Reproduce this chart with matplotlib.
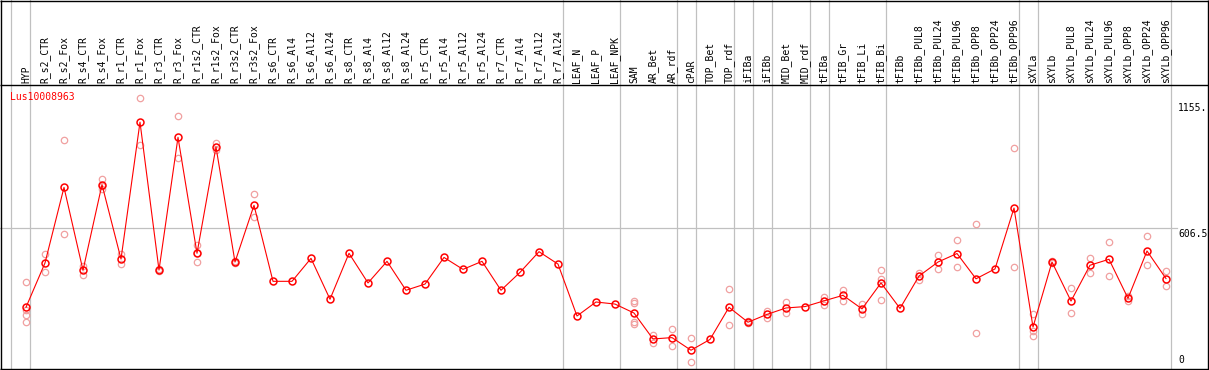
import matplotlib
matplotlib.use("Agg")
import matplotlib.pyplot as plt
import numpy as np

title = "Lus10008963"

categories = [
    "HYP", "R_s2_CTR", "R_s2_Fox", "R_s4_CTR", "R_s4_Fox", "R_r1_CTR", "R_r1_Fox",
    "R_r3_CTR", "R_r3_Fox", "R_r1s2_CTR", "R_r1s2_Fox", "R_r3s2_CTR", "R_r3s2_Fox",
    "R_s6_CTR", "R_s6_Al4", "R_s6_Al12", "R_s6_Al24", "R_s8_CTR", "R_s8_Al4",
    "R_s8_Al12", "R_s8_Al24", "R_r5_CTR", "R_r5_Al4", "R_r5_Al12", "R_r5_Al24",
    "R_r7_CTR", "R_r7_Al4", "R_r7_Al12", "R_r7_Al24", "LEAF_N", "LEAF_P", "LEAF_NPK",
    "SAM", "AR_Bet", "AR_rdf", "cPAR", "TOP_Bet", "TOP_rdf", "iFIBa", "iFIBb",
    "MID_Bet", "MID_rdf", "tFIBa", "tFIB_Gr", "tFIB_Li", "tFIB_Bi", "tFIBb",
    "tFIBb_PUL8", "tFIBb_PUL24", "tFIBb_PUL96", "tFIBb_OPP8", "tFIBb_OPP24",
    "tFIBb_OPP96", "sXYLa", "sXYLb", "sXYLb_PUL8", "sXYLb_PUL24", "sXYLb_PUL96",
    "sXYLb_OPP8", "sXYLb_OPP24", "sXYLb_OPP96",
]

means = [
    260, 453, 782, 421, 794, 470, 1066, 422, 1000, 495, 958, 457, 704,
    373, 373, 473, 295, 495, 366, 460, 334, 361, 477, 425, 460,
    334, 412, 502, 448, 222, 283, 274,
    235, 122, 128, 73, 120, 260, 195, 229, 257, 263, 288, 312, 253, 366, 255,
    396, 457, 494, 384, 427, 692, 174, 457, 287, 443, 469, 299, 505, 385,
]

replicates = [
    [369, 248, 226, 195], [493, 415], [987, 578], [441, 400], [820, 773, 789],
    [490, 450], [1170, 965], [425, 419], [1091, 908], [531, 456, 498],
    [974, 945], [460, 454], [752, 654],
    [], [], [], [], [], [], [], [], [], [], [], [], [], [], [], [],
    [], [], [],
    [289, 280, 195, 186], [139, 103], [165, 90], [125, 20], [], [338, 181],
    [199, 191], [242, 213], [283, 234], [], [303, 271], [335, 286], [276, 232],
    [421, 383, 290], [],
    [411, 379], [486, 425], [551, 435], [621, 148], [], [952, 434],
    [231, 158, 136], [461, 453], [343, 234], [473, 411], [543, 395],
    [309, 289], [570, 443], [418, 351],
]

# indices of last category in each group (separator lines drawn after them)
group_ends = [-1, 0, 28, 31, 34, 35, 37, 38, 39, 41, 42, 45, 52, 53, 60]

axis_values = [1155, 606.5, 0]
axis_labels = ["1155.", "606.5", "0"]

W, H = 1209, 370
fig = plt.figure(figsize=(W / 100, H / 100), dpi=100)
ax = fig.add_axes([0, 0, 1, 1])
ax.set_axis_off()

# pixel geometry
x0_px, dx_px = 26.0, 19.0
y0_px, py_per_unit = 367.0, 0.2297

def px_to_x(px):
    return (px - x0_px) / dx_px

def px_to_y(py):
    return (y0_px - py) / py_per_unit

ax.set_xlim(px_to_x(0), px_to_x(W))
ax.set_ylim(px_to_y(H), px_to_y(0))

grey = "#c0c0c0"
font = "DejaVu Sans Mono"
fs = 7

# group separators
for g in group_ends:
    ax.axvline(g + 4.5 / dx_px, color=grey, lw=0.9, zorder=1)

# grid line at mid value
ax.plot([px_to_x(0), px_to_x(1177)], [606.5, 606.5], color=grey, lw=0.9, zorder=1)

# frame lines
for (xa, ya, xb, yb) in [(0.5, 0.5, W, 0.5), (0.5, 85, W, 85), (0.5, 369, W, 369),
                         (0.6, 0, 0.6, H), (1207.8, 0, 1207.8, H)]:
    ax.plot([px_to_x(xa), px_to_x(xb)], [px_to_y(ya), px_to_y(yb)],
            color="black", lw=1.0, zorder=2, solid_capstyle="butt")

x = np.arange(len(categories))

# replicates
rx, ry = [], []
for i, reps in enumerate(replicates):
    for v in reps:
        rx.append(x[i])
        ry.append(v)
ax.plot(rx, ry, linestyle="none", marker="o", markersize=4.6, markerfacecolor="none",
        markeredgecolor="#f0a0a0", markeredgewidth=0.9, zorder=3)

# mean line and markers
ax.plot(x, means, color="#ff0000", lw=0.8, zorder=4)
ax.plot(x, means, linestyle="none", marker="o", markersize=5.0, markerfacecolor="none",
        markeredgecolor="#ff0000", markeredgewidth=1.1, zorder=5)

# category labels
label_y = px_to_y(83)
for i, c in enumerate(categories):
    ax.text(x[i], label_y, c, rotation=90, ha="center", va="bottom",
            fontsize=fs, family=font, color="black")

# title
ax.text(px_to_x(10), px_to_y(92), title, ha="left", va="top", fontsize=fs,
        family=font, color="#ff0000")

# right value labels
for v, lab in zip(axis_values, axis_labels):
    va = "bottom" if v == 0 else "top"
    yy = px_to_y(365) if v == 0 else v - 1.5 / py_per_unit
    ax.text(px_to_x(1178), yy, lab, ha="left", va=va, fontsize=fs, family=font,
            color="black")

fig.savefig("out.png", dpi=100)
